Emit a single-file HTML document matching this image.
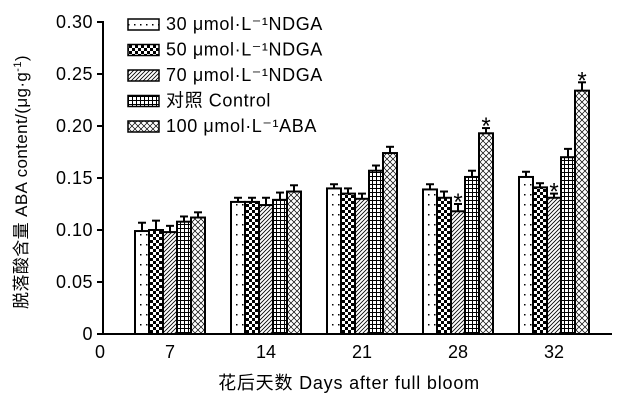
<!DOCTYPE html>
<html><head><meta charset="utf-8"><style>
body{margin:0;background:#fff}
svg text{font-family:"Liberation Sans","Noto Sans CJK SC",sans-serif;fill:#000}
</style></head><body>
<svg width="633" height="409" xmlns="http://www.w3.org/2000/svg">
<defs>
<pattern id="p0" width="6" height="10" patternUnits="userSpaceOnUse"><rect width="6" height="10" fill="#fff"/><rect x="2" y="4" width="1.5" height="1.5" fill="#000"/></pattern>
<pattern id="p1" width="6" height="6" patternUnits="userSpaceOnUse"><rect width="6" height="6" fill="#fff"/><rect width="3" height="3" fill="#000"/><rect x="3" y="3" width="3" height="3" fill="#000"/></pattern>
<pattern id="p2" width="4" height="4" patternUnits="userSpaceOnUse"><rect width="4" height="4" fill="#fff"/><path d="M0,4L4,0M-1,1L1,-1M3,5L5,3" stroke="#000" stroke-width="0.8"/></pattern>
<pattern id="p3" width="4" height="4" patternUnits="userSpaceOnUse"><rect width="4" height="4" fill="#fff"/><path d="M0,0.5H4M0.5,0V4" stroke="#000" stroke-width="1"/></pattern>
<pattern id="p4" width="6" height="6" patternUnits="userSpaceOnUse"><rect width="6" height="6" fill="#fff"/><path d="M0,0L6,6M6,0L0,6" stroke="#000" stroke-width="0.7"/></pattern>
</defs>
<g id="plot"></g>
<text x="349" y="389" text-anchor="middle" font-size="18" letter-spacing="0.8">花后天数 Days after full bloom</text>
<text transform="translate(27,182) rotate(-90)" text-anchor="middle" font-size="17" letter-spacing="0.4">脱落酸含量 ABA content/(μg·g<tspan dy="-6" font-size="11">-1</tspan><tspan dy="6">)</tspan></text>
</svg>
<script>
const categories=["7","14","21","28","32"];
const s30=[0.099,0.127,0.140,0.139,0.151];
const s50=[0.100,0.127,0.135,0.131,0.141];
const s70=[0.098,0.124,0.130,0.118,0.131];
const sCtrl=[0.108,0.129,0.157,0.151,0.170];
const sABA=[0.112,0.137,0.174,0.193,0.234];
const e30=[0.008,0.004,0.004,0.005,0.005];
const e50=[0.009,0.004,0.005,0.006,0.004];
const e70=[0.006,0.007,0.005,0.007,0.004];
const eCtrl=[0.005,0.007,0.005,0.006,0.008];
const eABA=[0.005,0.006,0.006,0.005,0.008];
const star70=[0,0,0,1,1];
const starABA=[0,0,0,1,1];
const yTicks=["0","0.05","0.10","0.15","0.20","0.25","0.30"];
const legendLabels=["30 μmol·L⁻¹NDGA","50 μmol·L⁻¹NDGA","70 μmol·L⁻¹NDGA","对照 Control","100 μmol·L⁻¹ABA"];
const series=[s30,s50,s70,sCtrl,sABA], errs=[e30,e50,e70,eCtrl,eABA];
const NS="http://www.w3.org/2000/svg";
const g=document.getElementById('plot');
const X0=103,Y0=334,PX=1040;
const y=v=>Y0-v*PX;
const cx=i=>170+i*96;
function mk(t,a,p){const e=document.createElementNS(NS,t);for(const k in a)e.setAttribute(k,a[k]);(p||g).appendChild(e);return e;}
let ax=mk('line',{x1:X0,y1:Y0,x2:612,y2:Y0,stroke:'#000','stroke-width':2});


let ay=mk('line',{x1:X0,y1:Y0,x2:X0,y2:y(0.30)-1,stroke:'#000','stroke-width':2});


yTicks.forEach((t,i)=>{const v=i*0.05;
 mk('line',{x1:X0-6,y1:y(v),x2:X0,y2:y(v),stroke:'#000','stroke-width':2});
 const tx=mk('text',{x:X0-10,y:y(v)+6,'text-anchor':'end','font-size':18,'letter-spacing':0.5});tx.textContent=t;
 
 });
let z=mk('text',{x:100,y:358,'text-anchor':'middle','font-size':18});z.textContent="0";


categories.forEach((c,i)=>{const t=mk('text',{x:cx(i),y:358,'text-anchor':'middle','font-size':18});t.textContent=c;
 
 });
const BW=14;
series.forEach((s,k)=>{s.forEach((v,i)=>{
 const x=cx(i)-35+k*BW, top=y(v), et=y(v+errs[k][i]);
 mk('line',{x1:x+BW/2,y1:top,x2:x+BW/2,y2:et,stroke:'#000','stroke-width':2});
 mk('line',{x1:x+BW/2-4,y1:et,x2:x+BW/2+4,y2:et,stroke:'#000','stroke-width':2});
 const r=mk('rect',{x:x,y:top,width:BW,height:Y0-top,fill:'url(#p'+k+')',stroke:'#000','stroke-width':2});
 
 
 const st=(k===2?star70:k===4?starABA:null);
 if(st&&st[i]){const t=mk('text',{x:x+BW/2,y:et+6,'text-anchor':'middle','font-size':24});t.textContent='*';
  
  }
});});
legendLabels.forEach((l,k)=>{const yy=19+k*25.5;
 const r=mk('rect',{x:128,y:yy,width:31,height:11,fill:'url(#p'+k+')',stroke:'#000','stroke-width':1.5});
 
 
 const t=mk('text',{x:166,y:yy+11,'font-size':18,'letter-spacing':0.6});t.textContent=l;
 
 });
</script>
</body></html>
